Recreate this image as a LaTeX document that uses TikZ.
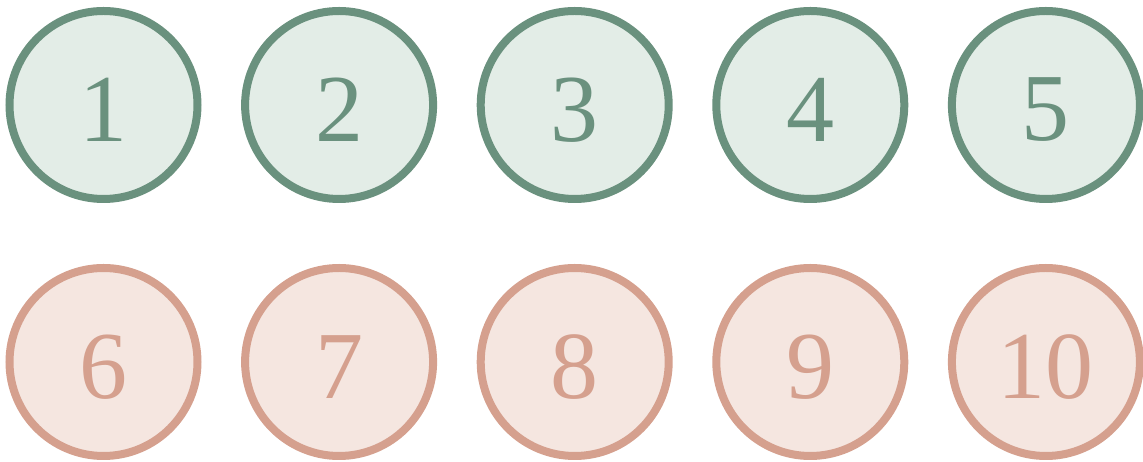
\documentclass[tikz,border=0pt]{standalone}
\usepackage{fontspec}
\setmainfont{Liberation Serif}
\usetikzlibrary{positioning}
\definecolor{discgreen}{HTML}{6A917E}
\definecolor{discgreenfill}{HTML}{E3EDE7}
\definecolor{discrose}{HTML}{D5A08E}
\definecolor{discrosefill}{HTML}{F5E6E0}

\begin{document}
\begin{tikzpicture}[
  x=1pt, y=1pt,
  disc/.style={circle, line width=8pt, minimum size=188pt, inner sep=0pt,
               font=\fontsize{96}{96}\selectfont},
  greendisc/.style={disc, draw=discgreen, fill=discgreenfill, text=discgreen},
  rosedisc/.style={disc, draw=discrose, fill=discrosefill, text=discrose},
]
\useasboundingbox (0,0) rectangle (1143,462);

%% Upper row
\foreach \i in {1,...,5}
  \node[greendisc] (top\i) at ({103.5+235.6*(\i-1)},357)
    {\raisebox{-5pt}[\height][\depth]{\i}};

%% Lower row
\foreach \i [evaluate=\i as \n using int(\i+5)] in {1,...,5}
  \node[rosedisc] (bot\i) at ({103.5+235.6*(\i-1)},100)
    {\raisebox{-5pt}[\height][\depth]{\n}};

\end{tikzpicture}
\end{document}
